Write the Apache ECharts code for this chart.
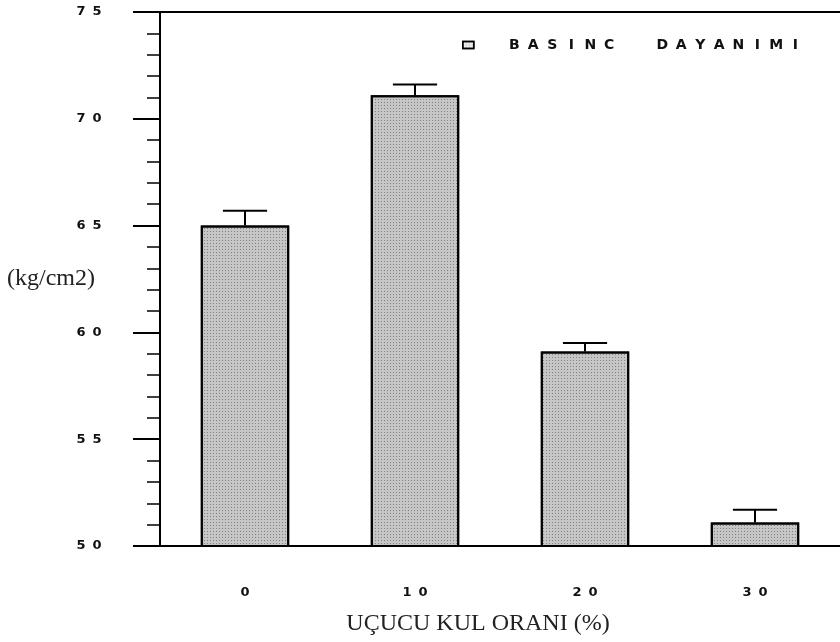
<!DOCTYPE html>
<html>
<head>
<meta charset="utf-8">
<script src="https://cdn.jsdelivr.net/npm/echarts@6/dist/echarts.min.js"></script>
<style>
  html, body { margin: 0; padding: 0; background: #fff; }
  #chart { width: 840px; height: 642px; }
</style>
</head>
<body>
<div id="chart"></div>
<script>
// veriler
const categories = ['0', '10', '20', '30'];
const strength = [65.0, 71.1, 59.1, 51.1];
const errTop = [65.7, 71.6, 59.5, 51.7];
const yTicks = [50, 55, 60, 65, 70, 75];

// her harfi sabit genişlikte bir kutuya koy (geniş harf aralığı için)
const cells = (s, key) => s.split('').map(ch => ch === ' ' ? '{gap| }' : '{' + key + '|' + ch + '}').join('');

const digitStyle = { fontFamily: 'DejaVu Sans', fontSize: 13, fontWeight: 'bold', color: '#111', width: 16, align: 'center' };

const chart = echarts.init(document.getElementById('chart'));

const option = {
  animation: false,
  backgroundColor: '#fff',
  grid: { left: 160, right: 0, top: 12, bottom: 96, containLabel: false, outerBoundsMode: 'none' },
  legend: {
    data: ['BASINC DAYANIMI'],
    top: 33,
    left: 457,
    itemWidth: 11,
    itemHeight: 7,
    itemGap: 10,
    icon: 'rect',
    itemStyle: { color: '#eee', borderColor: '#000', borderWidth: 1.5 },
    formatter: name => '{sp| }' + cells(name, 'l'),
    textStyle: {
      rich: {
        sp: { width: 26 },
        gap: { width: 34 },
        l: { fontFamily: 'DejaVu Sans', fontSize: 14, fontWeight: 'bold', color: '#111', width: 19, align: 'center' }
      }
    }
  },
  xAxis: [
    {
      type: 'category',
      data: categories,
      name: 'UÇUCU KUL ORANI (%)',
      nameLocation: 'middle',
      nameGap: 66,
      nameMoveOverlap: false,
      nameTextStyle: { fontFamily: 'Liberation Serif', fontSize: 24, color: '#222', padding: [0, 44, 0, 0] },
      axisLine: { lineStyle: { color: '#000', width: 2 } },
      axisTick: { alignWithLabel: true, length: 17, lineStyle: { color: '#000', width: 2 } },
      axisLabel: {
        margin: 40,
        formatter: v => cells(v, 'd'),
        rich: { d: digitStyle }
      },
      splitLine: { show: false }
    },
    {
      type: 'category',
      position: 'top',
      data: categories,
      axisLine: { lineStyle: { color: '#000', width: 2 } },
      axisTick: { show: false },
      axisLabel: { show: false }
    }
  ],
  yAxis: {
    type: 'value',
    min: yTicks[0],
    max: yTicks[yTicks.length - 1],
    interval: 5,
    name: '(kg/cm2)',
    nameLocation: 'middle',
    nameRotate: 0,
    nameGap: 65,
    nameMoveOverlap: false,
    nameTextStyle: { fontFamily: 'Liberation Serif', fontSize: 24, color: '#222', padding: [40, 0, 0, 0] },
    axisLine: { show: true, lineStyle: { color: '#000', width: 2 } },
    axisTick: { show: true, length: 27, lineStyle: { color: '#000', width: 2 } },
    minorTick: { show: true, splitNumber: 5, length: 13, lineStyle: { color: '#000', width: 1.5 } },
    axisLabel: {
      margin: 55,
      formatter: v => cells(String(v), 'd'),
      rich: { d: digitStyle }
    },
    splitLine: { show: false }
  },
  series: [
    {
      name: 'BASINC DAYANIMI',
      type: 'bar',
      barWidth: '52%',
      data: strength,
      itemStyle: {
        color: '#c6c6c6',
        borderColor: '#000',
        borderWidth: 2,
        decal: {
          symbol: 'rect',
          symbolSize: 1,
          dashArrayX: [1, 2],
          dashArrayY: [1, 2],
          color: 'rgba(0,0,0,0.35)'
        }
      }
    },
    {
      name: 'hata',
      type: 'custom',
      data: categories.map((c, i) => [i, strength[i], errTop[i]]),
      renderItem: (params, api) => {
        const base = api.coord([api.value(0), api.value(1)]);
        const top = api.coord([api.value(0), api.value(2)]);
        const half = api.size([1, 0])[0] * 0.13;
        const style = { stroke: '#000', lineWidth: 2 };
        return {
          type: 'group',
          children: [
            { type: 'line', shape: { x1: base[0], y1: base[1], x2: top[0], y2: top[1] }, style },
            { type: 'line', shape: { x1: top[0] - half, y1: top[1], x2: top[0] + half, y2: top[1] }, style }
          ]
        };
      },
      z: 3
    }
  ]
};

chart.setOption(option);
</script>
</body>
</html>
